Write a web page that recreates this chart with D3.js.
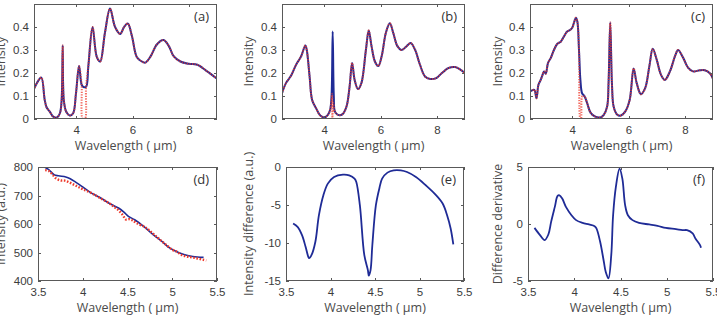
<!DOCTYPE html>
<html>
<head>
<meta charset="utf-8">
<script src="https://cdn.jsdelivr.net/npm/d3@7"></script>
<style>
  body { margin: 0; background: #fff; }
  svg { display: block; font-family: "Open Sans", "DejaVu Sans", sans-serif; }
</style>
</head>
<body>
<svg id="chart" width="717" height="318"></svg>
<script>
'use strict';

// ---- data ----
// top row: measured spectrum (blue) and reconstruction (red dots)
var specA = [[2.49,0.127],[2.62,0.16],[2.76,0.18],[2.88,0.083],[2.95,0.05],[3.06,0.032],[3.18,0.01],[3.32,0.007],
  [3.42,0.025],[3.48,0.08],[3.52,0.32],[3.56,0.08],[3.65,0.03],[3.77,0.015],[3.89,0.025],[3.99,0.11],[4.1,0.23],
  [4.19,0.15],[4.25,0.14],[4.35,0.14],[4.43,0.23],[4.58,0.40],[4.73,0.27],[4.85,0.25],[5.02,0.375],[5.2,0.48],
  [5.38,0.40],[5.56,0.37],[5.7,0.40],[5.83,0.415],[5.98,0.36],[6.15,0.27],[6.33,0.25],[6.45,0.245],[6.63,0.27],
  [6.87,0.325],[7.1,0.343],[7.29,0.317],[7.46,0.273],[7.7,0.25],[8.0,0.24],[8.3,0.236],[8.65,0.207],[9.0,0.175]];
var dipA = [[4.19,0.15],[4.23,0.0],[4.31,0.0],[4.35,0.14]];

var specB = [[2.5,0.112],[2.64,0.156],[2.82,0.188],[3.0,0.236],[3.18,0.273],[3.33,0.32],[3.38,0.30],[3.48,0.185],
  [3.57,0.083],[3.71,0.047],[3.86,0.015],[4.01,0.007],[4.13,0.018],[4.21,0.04],[4.26,0.1],[4.3,0.38],[4.34,0.1],
  [4.38,0.032],[4.49,0.018],[4.64,0.02],[4.79,0.054],[4.9,0.14],[4.99,0.244],[5.08,0.17],[5.2,0.13],[5.32,0.156],
  [5.48,0.30],[5.58,0.385],[5.68,0.317],[5.8,0.25],[5.92,0.23],[6.04,0.273],[6.19,0.375],[6.33,0.416],[6.45,0.375],
  [6.6,0.317],[6.75,0.30],[6.93,0.317],[7.07,0.33],[7.23,0.30],[7.4,0.236],[7.58,0.185],[7.76,0.174],[7.98,0.178],
  [8.18,0.2],[8.42,0.222],[8.65,0.226],[8.83,0.215],[9.0,0.2]];
var dipB = [[4.21,0.04],[4.25,0.07],[4.28,0.11],[4.29,0.0],[4.32,0.07],[4.38,0.032]];

var specC = [[2.5,0.12],[2.65,0.127],[2.73,0.09],[2.8,0.149],[2.88,0.17],[2.94,0.19],[3.0,0.207],[3.06,0.197],
  [3.14,0.244],[3.24,0.266],[3.35,0.30],[3.47,0.327],[3.59,0.336],[3.71,0.36],[3.82,0.38],[3.92,0.387],[4.0,0.397],
  [4.08,0.426],[4.13,0.44],[4.18,0.425],[4.24,0.30],[4.29,0.17],[4.35,0.112],[4.44,0.098],[4.53,0.069],[4.65,0.028],
  [4.82,0.01],[5.0,0.007],[5.12,0.018],[5.24,0.054],[5.29,0.156],[5.35,0.42],[5.41,0.156],[5.47,0.054],[5.59,0.02],
  [5.73,0.015],[5.88,0.032],[6.04,0.083],[6.18,0.22],[6.29,0.156],[6.44,0.108],[6.59,0.134],[6.74,0.23],[6.86,0.305],
  [7.0,0.258],[7.15,0.193],[7.29,0.17],[7.47,0.207],[7.65,0.273],[7.76,0.30],[7.94,0.266],[8.12,0.222],[8.29,0.207],
  [8.53,0.212],[8.71,0.212],[8.88,0.2],[9.0,0.174]];
var dipC = [[4.24,0.30],[4.29,0.0],[4.31,0.0],[4.36,0.1],[4.44,0.098]];

// bottom left: intensity (blue line, red dots)
var intBlue = [[3.58,798],[3.62,791],[3.68,773],[3.73,769],[3.81,765],[3.86,759],[3.92,747],[3.99,732],[4.08,712],
  [4.2,691],[4.31,670],[4.4,656],[4.46,642],[4.51,627],[4.58,615],[4.68,592],[4.79,562],[4.9,535],[4.97,516],
  [5.07,500],[5.14,492],[5.23,486],[5.35,483]];
var intRed = [[3.58,789],[3.62,786],[3.66,775],[3.70,760],[3.75,753],[3.80,752],[3.85,746],[3.90,738],[3.95,730],
  [4.0,722],[4.1,708],[4.2,690],[4.3,672],[4.35,660],[4.4,648],[4.45,630],[4.48,616],[4.52,617],[4.56,612],
  [4.6,603],[4.7,588],[4.8,562],[4.9,535],[5.0,510],[5.05,503],[5.1,492],[5.15,487],[5.2,484],[5.25,481],
  [5.3,478],[5.35,474],[5.38,472]];

// bottom middle: intensity difference
var diff = [[3.58,-7.43],[3.63,-7.87],[3.68,-8.97],[3.72,-10.5],[3.75,-11.8],[3.76,-12.0],[3.79,-11.5],[3.83,-9.84],
  [3.87,-6.34],[3.92,-3.72],[3.97,-2.19],[4.04,-1.31],[4.14,-1.0],[4.21,-1.09],[4.27,-1.53],[4.29,-1.97],
  [4.33,-5.03],[4.38,-11.6],[4.42,-13.56],[4.43,-14.3],[4.45,-13.56],[4.47,-10.3],[4.51,-5.03],[4.55,-2.76],
  [4.58,-1.53],[4.64,-0.74],[4.71,-0.44],[4.79,-0.44],[4.86,-0.66],[4.96,-1.31],[5.07,-2.4],[5.18,-3.63],
  [5.26,-4.81],[5.31,-6.34],[5.35,-8.09],[5.38,-10.19]];

// bottom right: derivative of the difference
var deriv = [[3.57,-0.34],[3.63,-0.98],[3.68,-1.41],[3.72,-0.92],[3.75,0.19],[3.79,1.5],[3.82,2.46],[3.84,2.52],
  [3.87,2.23],[3.91,1.5],[3.97,0.77],[4.02,0.34],[4.09,0.1],[4.16,-0.04],[4.22,-0.19],[4.24,-0.39],[4.28,-1.56],
  [4.32,-3.31],[4.34,-4.18],[4.37,-4.77],[4.4,-2.73],[4.42,0.77],[4.45,3.25],[4.49,4.85],[4.52,3.98],[4.55,1.65],
  [4.58,0.77],[4.63,0.34],[4.7,0.1],[4.81,-0.04],[4.9,-0.16],[4.99,-0.34],[5.1,-0.45],[5.17,-0.54],[5.22,-0.54],
  [5.28,-0.83],[5.31,-1.27],[5.36,-1.85],[5.37,-2.08]];

var specTicksY = [0, 0.1, 0.2, 0.3, 0.4];
var specTicksX = [4, 6, 8];
var bottomTicksX = [3.5, 4, 4.5, 5, 5.5];
var xLabel = 'Wavelength ( \u03bcm)';

var BLUE = '#1f2b96', RED = '#ee3a2c', AXIS = '#595959', TEXT = '#3c3c3c';

// red trace = blue trace with the points inside the dip window replaced
function withDip(spec, dip) {
  var lo = dip[0][0], hi = dip[dip.length - 1][0];
  return spec.filter(function(d) { return d[0] < lo; })
    .concat(dip)
    .concat(spec.filter(function(d) { return d[0] > hi; }));
}

var svg = d3.select('#chart');

function panel(opt) {
  var x = d3.scaleLinear().domain(opt.xd).range([opt.l, opt.r]),
      y = d3.scaleLinear().domain(opt.yd).range([opt.b, opt.t]),
      g = svg.append('g'),
      tl = 3;

  var clipId = 'clip-' + opt.id;
  g.append('clipPath').attr('id', clipId).append('rect')
    .attr('x', opt.l).attr('y', opt.t).attr('width', opt.r - opt.l).attr('height', opt.b - opt.t);

  var line = d3.line()
    .x(function(d) { return x(d[0]); })
    .y(function(d) { return y(d[1]); })
    .curve(d3.curveCatmullRom.alpha(0.5));

  var plot = g.append('g').attr('clip-path', 'url(#' + clipId + ')');
  opt.series.forEach(function(s) {
    plot.append('path')
      .attr('d', line(s.data))
      .attr('fill', 'none')
      .attr('stroke', s.color)
      .attr('stroke-width', s.width)
      .attr('stroke-opacity', s.opacity || 1)
      .attr('stroke-dasharray', s.dash || null)
      .attr('stroke-linejoin', 'round');
  });

  // box with inward ticks on all four sides
  g.append('rect')
    .attr('x', opt.l + 0.5).attr('y', opt.t + 0.5)
    .attr('width', opt.r - opt.l - 1).attr('height', opt.b - opt.t - 1)
    .attr('fill', 'none').attr('stroke', AXIS).attr('stroke-width', 1);

  var bottom = d3.axisBottom(x).tickValues(opt.xt).tickSize(0).tickPadding(7)
    .tickFormat(function(d) { return String(d); });
  var left = d3.axisLeft(y).tickValues(opt.yt).tickSize(0).tickPadding(5)
    .tickFormat(function(d) { return String(d); });

  var ax = g.append('g').attr('transform', 'translate(0,' + opt.b + ')').call(bottom);
  var ay = g.append('g').attr('transform', 'translate(' + opt.l + ',0)').call(left);
  [ax, ay].forEach(function(a) {
    a.select('.domain').remove();
    a.selectAll('text').attr('fill', TEXT).style('font-size', '11.5px');
  });

  opt.xt.forEach(function(v) {
    var px = Math.round(x(v)) + 0.5;
    g.append('line').attr('x1', px).attr('x2', px).attr('y1', opt.b).attr('y2', opt.b - tl)
      .attr('stroke', AXIS);
    g.append('line').attr('x1', px).attr('x2', px).attr('y1', opt.t).attr('y2', opt.t + tl)
      .attr('stroke', AXIS);
  });
  opt.yt.forEach(function(v) {
    var py = Math.round(y(v)) + 0.5;
    g.append('line').attr('x1', opt.l).attr('x2', opt.l + tl).attr('y1', py).attr('y2', py)
      .attr('stroke', AXIS);
    g.append('line').attr('x1', opt.r).attr('x2', opt.r - tl).attr('y1', py).attr('y2', py)
      .attr('stroke', AXIS);
  });

  g.append('text')
    .attr('x', (opt.l + opt.r) / 2).attr('y', opt.b + 31)
    .attr('text-anchor', 'middle').attr('fill', '#4a4a4a').style('font-size', '12.5px')
    .text(xLabel);
  g.append('text')
    .attr('transform', 'translate(' + opt.yl + ',' + (opt.t + opt.b) / 2 + ') rotate(-90)')
    .attr('text-anchor', 'middle').attr('dominant-baseline', 'central')
    .attr('fill', '#4a4a4a').style('font-size', '12.5px')
    .text(opt.ylabel);
  g.append('text')
    .attr('x', opt.r - 8).attr('y', opt.t + 17)
    .attr('text-anchor', 'end').attr('fill', '#333').style('font-size', '13px')
    .text(opt.tag);
}

function specSeries(spec, dip) {
  return [
    { data: spec, color: BLUE, width: 2 },
    { data: withDip(spec, dip), color: RED, width: 2, dash: '1.3,1.3', opacity: 0.75 }
  ];
}

var topRow = { t: 4, b: 119, xd: [2.5, 9], yd: [0, 0.5], xt: specTicksX, yt: specTicksY, ylabel: 'Intensity' };
var lowRow = { t: 167, b: 281, xd: [3.5, 5.5], xt: bottomTicksX };

panel(Object.assign({}, topRow, { id: 'a', tag: '(a)', l: 34, r: 217, yl: 0, series: specSeries(specA, dipA) }));
panel(Object.assign({}, topRow, { id: 'b', tag: '(b)', l: 282, r: 465, yl: 248, series: specSeries(specB, dipB) }));
panel(Object.assign({}, topRow, { id: 'c', tag: '(c)', l: 530, r: 713, yl: 497, series: specSeries(specC, dipC) }));

panel(Object.assign({}, lowRow, { id: 'd', tag: '(d)', l: 38, r: 217, yl: 0, yd: [400, 800],
  yt: [400, 500, 600, 700, 800], ylabel: 'Intensity (a.u.)',
  series: [
    { data: intBlue, color: BLUE, width: 1.6 },
    { data: intRed, color: RED, width: 2.4, dash: '1.6,1.6' }
  ] }));
panel(Object.assign({}, lowRow, { id: 'e', tag: '(e)', l: 286, r: 464, yl: 248, yd: [-15, 0],
  yt: [-15, -10, -5, 0], ylabel: 'Intensity difference (a.u.)',
  series: [{ data: diff, color: BLUE, width: 1.8 }] }));
panel(Object.assign({}, lowRow, { id: 'f', tag: '(f)', l: 528, r: 713, yl: 497, yd: [-5, 5],
  yt: [-5, 0, 5], ylabel: 'Difference derivative',
  series: [{ data: deriv, color: BLUE, width: 1.8 }] }));
</script>
</body>
</html>
